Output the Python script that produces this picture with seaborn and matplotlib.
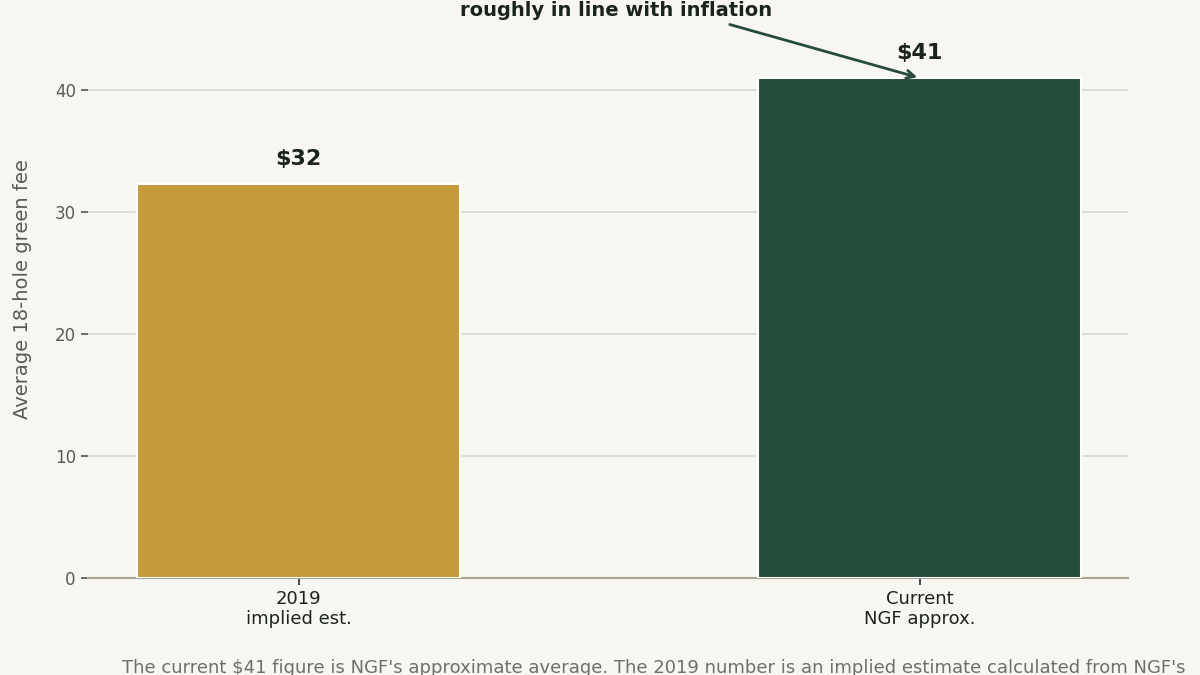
import matplotlib
matplotlib.use('Agg')
import seaborn as sns
import matplotlib.pyplot as plt
import pandas as pd

labels = ['2019\nimplied est.', 'Current\nNGF approx.']
fees = [32.3, 41.0]
value_labels = ['$32', '$41']
colors = ['#c49a3a', '#244c38']

bg = '#f7f6f0'
sns.set_theme(style='white')
plt.rcParams['font.family'] = ['DejaVu Sans']

df = pd.DataFrame({'label': labels, 'fee': fees})

fig = plt.figure(figsize=(12, 6.75), dpi=100, facecolor=bg)
ax = fig.add_axes([0.073, 0.144, 0.867, 0.856])
ax.set_facecolor(bg)

sns.barplot(data=df, x='label', y='fee', hue='label', palette=colors, saturation=1,
            width=0.52, edgecolor='white', linewidth=1.5, legend=False, ax=ax, zorder=3)

for i, (v, t) in enumerate(zip(fees, value_labels)):
    ax.text(i, v + 1.2, t, ha='center', va='bottom', fontsize=16,
            fontweight='bold', color='#1b231e')

ax.annotate('roughly in line with inflation', xy=(1, 41.0), xytext=(0.51, 46.5),
            ha='center', va='center', fontsize=14, fontweight='bold', color='#1b231e',
            arrowprops=dict(arrowstyle='->', color='#244c38', lw=2, relpos=(0.82, 0.0)))

ax.set_ylim(0, 47.4)
ax.set_xlim(-0.34, 1.335)
ax.set_yticks([0, 10, 20, 30, 40])
ax.yaxis.grid(True, color='#d9d9d3', linewidth=1.2, zorder=0)
ax.set_xlabel('')
ax.set_ylabel('Average 18-hole green fee', fontsize=14, color='#555c57', labelpad=16)
ax.tick_params(axis='y', labelsize=12, colors='#555c57', length=5, left=True)
ax.tick_params(axis='x', labelsize=13, labelcolor='#1b231e', length=5, bottom=True, color='#333')
for s in ['top', 'right', 'left']:
    ax.spines[s].set_visible(False)
ax.spines['bottom'].set_color('#a8a593')
ax.spines['bottom'].set_linewidth(1.5)

fig.text(0.102, 0.01, "The current $41 figure is NGF's approximate average. The 2019 number is an implied estimate calculated from NGF's",
         fontsize=13, color='#6b706c', va='center')

fig.savefig('out.png', facecolor=bg)
